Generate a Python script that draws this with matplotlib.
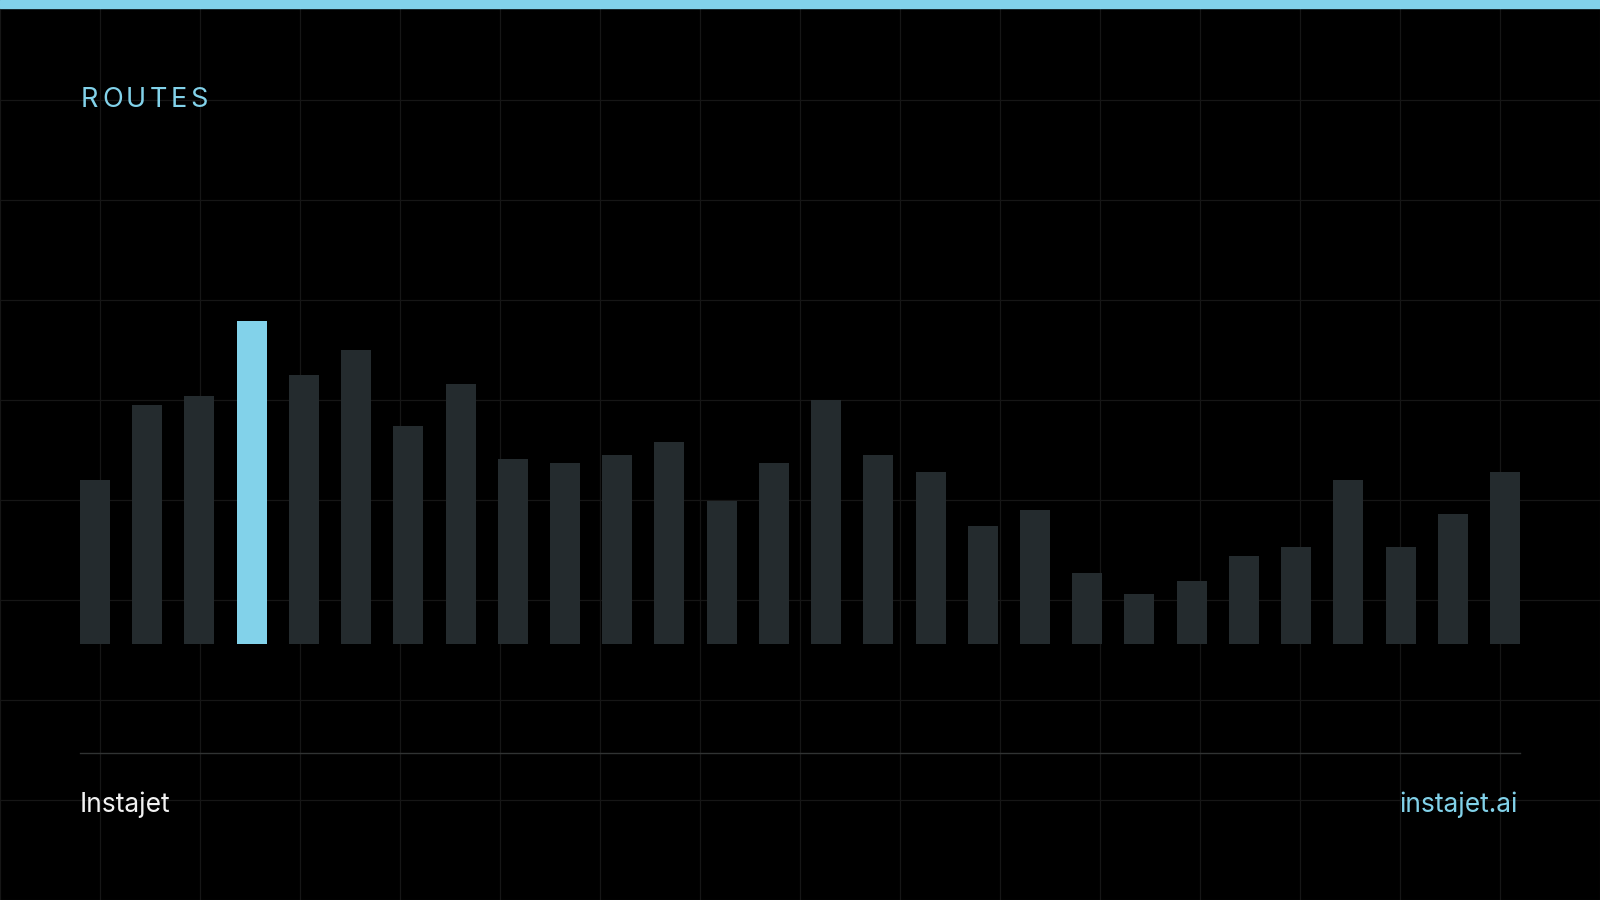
import matplotlib
matplotlib.use("Agg")
import matplotlib.pyplot as plt
from matplotlib.lines import Line2D
from matplotlib.patches import Rectangle

# ---- data ----
routes = list(range(1, 29))
values = [164, 239, 248, 323, 269, 294, 218, 260, 185, 181, 189, 202, 143, 181,
          244, 189, 172, 118, 134, 71, 50, 63, 88, 97, 164, 97, 130, 172]
highlight_index = 3
title = "ROUTES"
brand_left = "Instajet"
brand_right = "instajet.ai"

W, H = 1600, 900
BG = "#000000"
GRID = "#161616"
BAR = "#242b2e"
ACCENT = "#82d2ea"
FONT = ["Inter", "DejaVu Sans"]

fig = plt.figure(figsize=(W / 100, H / 100), dpi=100, facecolor=BG)

def fx(px):
    return px / W

def fy(py):
    return 1 - py / H

# background grid
for gx in range(0, W + 1, 100):
    fig.add_artist(Line2D([fx(gx), fx(gx)], [0, 1], color=GRID, lw=0.9,
                          transform=fig.transFigure, zorder=0))
for gy in range(0, H + 1, 100):
    fig.add_artist(Line2D([0, 1], [fy(gy), fy(gy)], color=GRID, lw=0.9,
                          transform=fig.transFigure, zorder=0))

# top accent bar
fig.add_artist(Rectangle((0, fy(8)), 1, 8 / H, color=ACCENT,
                         transform=fig.transFigure, zorder=5))

# bars axes
left_px, right_px = 80, 1520
base_px, top_px = 644, 160
ax = fig.add_axes([fx(left_px), fy(base_px), (right_px - left_px) / W,
                   (base_px - top_px) / H])
ax.set_facecolor("none")
n = len(values)
step = (right_px - left_px - 30) / (n - 1)
w = 30 / step
colors = [ACCENT if i == highlight_index else BAR for i in range(n)]
ax.bar(range(n), values, width=w, color=colors, linewidth=0, zorder=3)
ax.set_xlim(-w / 2, n - 1 + w / 2)
ax.set_ylim(0, base_px - top_px)
ax.axis("off")

# title with letter tracking
renderer = fig.canvas.get_renderer()
x = 81
for ch in title:
    t = fig.text(fx(x), fy(107), ch, color=ACCENT, fontsize=19.5,
                 family=FONT, ha="left", va="baseline")
    bb = t.get_window_extent(renderer=renderer)
    x += bb.width + 3.4

# footer rule
fig.add_artist(Line2D([fx(80), fx(1520)], [fy(753), fy(753)], color="#303333",
                      lw=1.0, transform=fig.transFigure, zorder=2))

fig.text(fx(80), fy(812), brand_left, color="#f2f2f2", fontsize=19,
         family=FONT, ha="left", va="baseline")
fig.text(fx(1518), fy(812), brand_right, color=ACCENT, fontsize=19,
         family=FONT, ha="right", va="baseline")

fig.savefig("out.png", dpi=100, facecolor=BG)
